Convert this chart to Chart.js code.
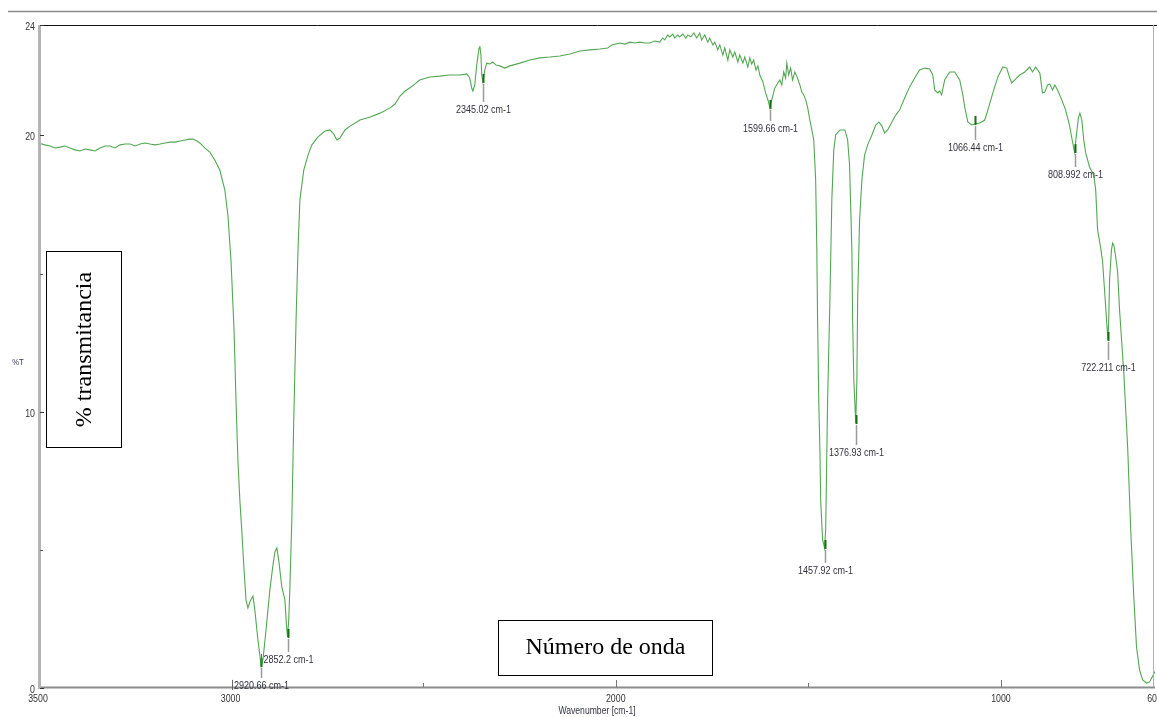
<!DOCTYPE html>
<html>
<head>
<meta charset="utf-8">
<script src="https://cdn.jsdelivr.net/npm/chart.js@4.4.1/dist/chart.umd.min.js"></script>
<style>
  html, body { margin: 0; padding: 0; background: #ffffff; }
  #wrap { position: relative; width: 1157px; height: 717px; }
  canvas { display: block; }
</style>
</head>
<body>
<div id="wrap"><canvas id="spectrum" width="1157" height="717"></canvas></div>
<script>
// IR spectrum: wavenumber (cm-1) against transmittance (%T)
const wavenumber = [
  3500, 3482, 3469, 3456, 3443, 3430, 3417, 3404, 3391, 3378, 3365, 3352, 3339, 3326, 3313, 3300,
  3287, 3274, 3261, 3248, 3235, 3222, 3209, 3196, 3183, 3170, 3157, 3144, 3131, 3118, 3106, 3098,
  3087, 3080, 3067, 3054, 3041, 3028, 3015, 3007, 2999, 2991, 2986, 2981, 2976, 2971, 2965, 2960,
  2955, 2950, 2942, 2937, 2929, 2920.66, 2916, 2908, 2898, 2890, 2885, 2880, 2875, 2867, 2859, 2855,
  2852.2, 2849, 2846, 2841, 2836, 2830, 2825, 2820, 2810, 2799, 2789, 2773, 2755, 2742, 2732, 2724,
  2716, 2703, 2690, 2664, 2638, 2612, 2586, 2573, 2560, 2547, 2535, 2522, 2509, 2483, 2457, 2431,
  2405, 2387, 2379, 2374, 2371, 2366, 2361, 2355, 2353, 2350, 2348, 2345.02, 2340, 2335, 2327, 2319,
  2311, 2301, 2288, 2275, 2249, 2223, 2197, 2171, 2145, 2119, 2093, 2067, 2041, 2021, 2010, 1989,
  1976, 1963, 1950, 1938, 1925, 1912, 1899, 1886, 1878, 1873, 1865, 1860, 1852, 1847, 1839, 1834,
  1826, 1818, 1813, 1805, 1797, 1790, 1782, 1777, 1769, 1761, 1756, 1748, 1743, 1735, 1730, 1722,
  1717, 1709, 1704, 1696, 1691, 1683, 1678, 1670, 1665, 1657, 1652, 1647, 1642, 1636, 1631, 1626,
  1618, 1611, 1605, 1599.66, 1595, 1587, 1579, 1574, 1569, 1564, 1559, 1556, 1551, 1546, 1541, 1535,
  1530, 1522, 1517, 1512, 1507, 1502, 1496, 1491, 1486, 1481, 1478, 1476, 1473, 1470, 1468, 1463,
  1460, 1457.92, 1455, 1450, 1444, 1439, 1434, 1429, 1418, 1405, 1398, 1393, 1387, 1385, 1382, 1376.93,
  1374, 1372, 1367, 1361, 1354, 1346, 1335, 1325, 1317, 1309, 1302, 1294, 1283, 1273, 1263, 1250,
  1237, 1224, 1211, 1198, 1185, 1177, 1172, 1164, 1159, 1154, 1146, 1133, 1120, 1107, 1099, 1094,
  1086, 1076, 1066.44, 1055, 1042, 1034, 1021, 1008, 995, 985, 977, 972, 964, 951, 938, 925,
  918, 910, 899, 892, 886, 879, 873, 866, 860, 853, 842, 832, 822, 816, 808.992, 804,
  799, 795, 790, 785, 780, 770, 759, 754, 749, 741, 736, 731, 727, 722.211, 720, 718,
  713, 710, 707, 702, 697, 692, 681, 671, 663, 655, 648, 640, 632, 622, 614, 606,
  600
];
const transmittance = [
  19.73, 19.66, 19.62, 19.55, 19.58, 19.62, 19.55, 19.48, 19.44, 19.51, 19.48, 19.44, 19.55, 19.62, 19.62, 19.55,
  19.66, 19.69, 19.69, 19.62, 19.69, 19.73, 19.69, 19.66, 19.69, 19.73, 19.76, 19.76, 19.80, 19.84, 19.87, 19.87,
  19.80, 19.73, 19.55, 19.40, 19.11, 18.75, 18.03, 17.12, 15.49, 12.96, 10.43, 8.25, 6.81, 5.72, 4.27, 3.19,
  2.90, 3.11, 3.33, 2.82, 1.74, 0.80, 1.01, 2.10, 3.55, 4.45, 4.92, 5.07, 4.63, 3.66, 3.19, 2.28,
  1.85, 2.46, 3.66, 6.08, 9.70, 13.32, 15.86, 17.67, 18.75, 19.29, 19.66, 19.95, 20.16, 20.20, 20.05, 19.84,
  19.91, 20.20, 20.34, 20.56, 20.67, 20.81, 21.00, 21.14, 21.43, 21.61, 21.72, 21.86, 22.01, 22.12, 22.15, 22.19,
  22.19, 22.23, 22.08, 21.72, 21.61, 21.83, 22.55, 23.17, 23.24, 22.91, 22.19, 21.94, 22.37, 22.62, 22.59, 22.66,
  22.55, 22.52, 22.44, 22.52, 22.62, 22.73, 22.81, 22.84, 22.88, 22.95, 23.06, 23.10, 23.13, 23.17, 23.28, 23.35,
  23.31, 23.38, 23.35, 23.38, 23.35, 23.35, 23.42, 23.38, 23.53, 23.46, 23.64, 23.57, 23.67, 23.53, 23.64, 23.57,
  23.67, 23.53, 23.64, 23.57, 23.71, 23.53, 23.71, 23.46, 23.64, 23.38, 23.53, 23.28, 23.38, 23.10, 23.28, 22.91,
  23.17, 22.73, 23.10, 22.84, 23.02, 22.66, 22.91, 22.62, 22.84, 22.48, 22.81, 22.59, 22.73, 22.37, 22.52, 22.19,
  21.94, 21.54, 21.29, 21.00, 21.29, 21.72, 21.90, 22.01, 21.83, 22.30, 22.08, 22.62, 22.19, 22.44, 22.01, 22.30,
  22.15, 21.83, 21.57, 21.47, 21.29, 21.03, 20.56, 20.20, 19.84, 18.39, 15.86, 13.32, 10.43, 8.62, 6.81, 5.36,
  5.20, 5.07, 5.72, 10.43, 14.05, 17.67, 19.48, 20.02, 20.20, 20.20, 19.84, 18.93, 15.86, 13.32, 11.15, 9.59,
  11.15, 14.05, 16.94, 18.39, 19.29, 19.66, 20.02, 20.38, 20.49, 20.34, 20.09, 20.20, 20.49, 20.74, 20.92, 21.36,
  21.76, 22.08, 22.37, 22.44, 22.41, 22.19, 21.65, 21.54, 21.61, 21.47, 22.01, 22.30, 22.30, 22.01, 21.47, 21.03,
  20.49, 20.38, 20.42, 20.45, 20.56, 20.92, 21.54, 22.12, 22.48, 22.44, 22.08, 21.90, 22.01, 22.19, 22.30, 22.48,
  22.30, 22.48, 22.26, 21.54, 21.57, 21.83, 21.86, 21.65, 21.83, 21.65, 21.29, 20.92, 20.38, 19.91, 19.40, 20.02,
  20.63, 20.81, 20.56, 19.84, 19.37, 18.86, 18.57, 18.03, 16.58, 15.93, 15.42, 14.41, 13.57, 12.60, 13.32, 14.77,
  15.86, 16.11, 16.04, 15.60, 15.06, 13.68, 11.40, 8.72, 5.72, 3.29, 1.48, 0.65, 0.29, 0.18, 0.22, 0.43,
  0.60
];

// Labelled absorption bands (cm-1)
const peakWavenumbers = [2920.66, 2852.2, 2345.02, 1599.66, 1457.92, 1376.93, 1066.44, 808.992, 722.211];

// Axis ticks
const xRange = [600, 3500];
const yRange = [0, 24];
const xTickValues = [3500, 3000, 2000, 1000, 600];
const xTickLabels = ['3500', '3000', '2000', '1000', '60'];
const xMajorMarks = [2000, 1000];
const xMinorMarks = [2500, 1500];
const yTickValues = [24, 20, 10, 0];
const yTickLabels = ['24', '20', '10', '0'];
const yMinorMarks = [15, 5];

// Titles
const yAxisTitle = '%T';
const xAxisTitle = 'Wavenumber [cm-1]';
const yBoxText = '% transmitancia';
const xBoxText = 'Número de onda';

// Annotation styling: leader length below each band (px) and whether a side bar precedes the label
const leaderLengths = [12, 15, 20, 13, 15, 22, 16, 15, 20];
const leadBars = [true, true, false, false, false, false, false, false, false];

const SPECTRUM_GREEN = 'rgb(82,168,82)';
const MARK_GREEN = 'rgb(20,110,20)';
const SANS = '"Liberation Sans", Arial, sans-serif';
const SERIF = '"Liberation Serif", "Times New Roman", serif';

function narrowText(ctx, text, x, y, size, squeeze, align, color) {
  ctx.save();
  ctx.font = size + 'px ' + SANS;
  ctx.fillStyle = color;
  ctx.textBaseline = 'middle';
  ctx.textAlign = 'left';
  const w = ctx.measureText(text).width * squeeze;
  let left = x;
  if (align === 'center') left = x - w / 2;
  else if (align === 'right') left = x - w;
  // keep labels inside the canvas
  const maxLeft = ctx.canvas.width - w;
  if (left > maxLeft) left = maxLeft;
  ctx.translate(left, y);
  ctx.scale(squeeze, 1);
  ctx.fillText(text, 0, 0);
  ctx.restore();
  return { left: left, width: w };
}

function line(ctx, x1, y1, x2, y2, color, width) {
  ctx.save();
  ctx.strokeStyle = color;
  ctx.lineWidth = width;
  ctx.beginPath();
  ctx.moveTo(x1, y1);
  ctx.lineTo(x2, y2);
  ctx.stroke();
  ctx.restore();
}

// Frame, axes, ticks and axis titles
const framePlugin = {
  id: 'frame',
  afterDatasetsDraw(chart) {
    const { ctx, chartArea: a, scales } = chart;
    const xs = scales.x, ys = scales.y;
    // page rule above the plot
    line(ctx, 8, 11.5, chart.width, 11.5, '#8a8a8a', 1.5);
    // plot frame
    line(ctx, a.left, a.top + 0.5, chart.width, a.top + 0.5, '#111111', 1);
    line(ctx, a.right - 1.5, a.top, a.right - 1.5, a.bottom, '#b0b0b0', 1);
    line(ctx, a.left, a.bottom - 0.5, a.right, a.bottom - 0.5, '#8c8c8c', 2);
    line(ctx, a.left + 1.5, a.top, a.left + 1.5, a.bottom + 1, '#b4b4b4', 3);

    // y ticks
    yTickValues.forEach((v, i) => {
      const py = Math.round(ys.getPixelForValue(v)) + 0.5;
      line(ctx, a.left + 2, py, a.left + 6, py, '#333333', 1);
      narrowText(ctx, yTickLabels[i], a.left - 3, py + 1, 11, 0.8, 'right', '#333333');
    });
    yMinorMarks.forEach(v => {
      const py = Math.round(ys.getPixelForValue(v)) + 0.5;
      line(ctx, a.left + 2, py, a.left + 5, py, '#555555', 1);
    });

    // x ticks
    xMajorMarks.forEach(v => {
      const px = Math.round(xs.getPixelForValue(v)) + 0.5;
      line(ctx, px, a.bottom - 8, px, a.bottom - 1, '#777777', 1);
    });
    xMinorMarks.forEach(v => {
      const px = Math.round(xs.getPixelForValue(v)) + 0.5;
      line(ctx, px, a.bottom - 5, px, a.bottom - 1, '#777777', 1);
    });
    xTickValues.forEach((v, i) => {
      const px = xs.getPixelForValue(v);
      narrowText(ctx, xTickLabels[i], px, a.bottom + 11, 11, 0.8, 'center', '#333333');
    });

    // axis titles
    narrowText(ctx, yAxisTitle, 18, 363, 9, 0.85, 'center', '#3a3a5a');
    narrowText(ctx, xAxisTitle, 597, 711, 10, 0.86, 'center', '#333344');
  }
};

// Band markers: highlighted point, grey leader and wavenumber label
const peakPlugin = {
  id: 'peaks',
  afterDatasetsDraw(chart) {
    const { ctx, scales } = chart;
    const xs = scales.x, ys = scales.y;
    peakWavenumbers.forEach((w, i) => {
      const idx = wavenumber.indexOf(w);
      const t = transmittance[idx];
      const px = Math.round(xs.getPixelForValue(w)) + 0.5;
      const py = ys.getPixelForValue(t);
      const len = leaderLengths[i];
      line(ctx, px, py - 8, px, py + 1, MARK_GREEN, 2);
      line(ctx, px, py + 2, px, py + len, '#9a9a9a', 1.5);
      const label = w + ' cm-1';
      const box = narrowText(ctx, label, px, py + len + 8, 11, 0.82, 'center', '#33333f');
      if (leadBars[i]) {
        const bx = Math.round(box.left) - 1.5;
        line(ctx, bx, py + len + 2, bx, py + len + 12, '#666666', 1);
      }
    });
  }
};

// Framed Spanish captions
const captionPlugin = {
  id: 'captions',
  afterDraw(chart) {
    const { ctx } = chart;
    ctx.save();
    ctx.fillStyle = '#ffffff';
    ctx.strokeStyle = '#000000';
    ctx.lineWidth = 1;
    // vertical caption
    ctx.fillRect(46.5, 251.5, 75, 196);
    ctx.strokeRect(46.5, 251.5, 75, 196);
    ctx.translate(84, 349.5);
    ctx.rotate(-Math.PI / 2);
    ctx.font = '24px ' + SERIF;
    ctx.fillStyle = '#000000';
    ctx.textAlign = 'center';
    ctx.textBaseline = 'middle';
    ctx.fillText(yBoxText, 0, 1);
    ctx.restore();

    ctx.save();
    ctx.fillStyle = '#ffffff';
    ctx.strokeStyle = '#000000';
    ctx.lineWidth = 1;
    ctx.fillRect(498.5, 620.5, 214, 55);
    ctx.strokeRect(498.5, 620.5, 214, 55);
    ctx.font = '24px ' + SERIF;
    ctx.fillStyle = '#000000';
    ctx.textAlign = 'center';
    ctx.textBaseline = 'middle';
    ctx.fillText(xBoxText, 605.5, 648);
    ctx.restore();
  }
};

const points = wavenumber.map((w, i) => ({ x: w, y: transmittance[i] }));

new Chart(document.getElementById('spectrum'), {
  type: 'line',
  data: {
    datasets: [{
      data: points,
      borderColor: SPECTRUM_GREEN,
      borderWidth: 1.1,
      pointRadius: 0,
      tension: 0,
      fill: false
    }]
  },
  options: {
    responsive: false,
    animation: false,
    devicePixelRatio: 1,
    layout: { padding: { left: 38, right: 2, top: 25, bottom: 29 } },
    plugins: { legend: { display: false }, tooltip: { enabled: false } },
    scales: {
      x: { type: 'linear', reverse: true, min: xRange[0], max: xRange[1], display: false },
      y: { type: 'linear', min: yRange[0], max: yRange[1], display: false }
    }
  },
  plugins: [framePlugin, peakPlugin, captionPlugin]
});
</script>
</body>
</html>
